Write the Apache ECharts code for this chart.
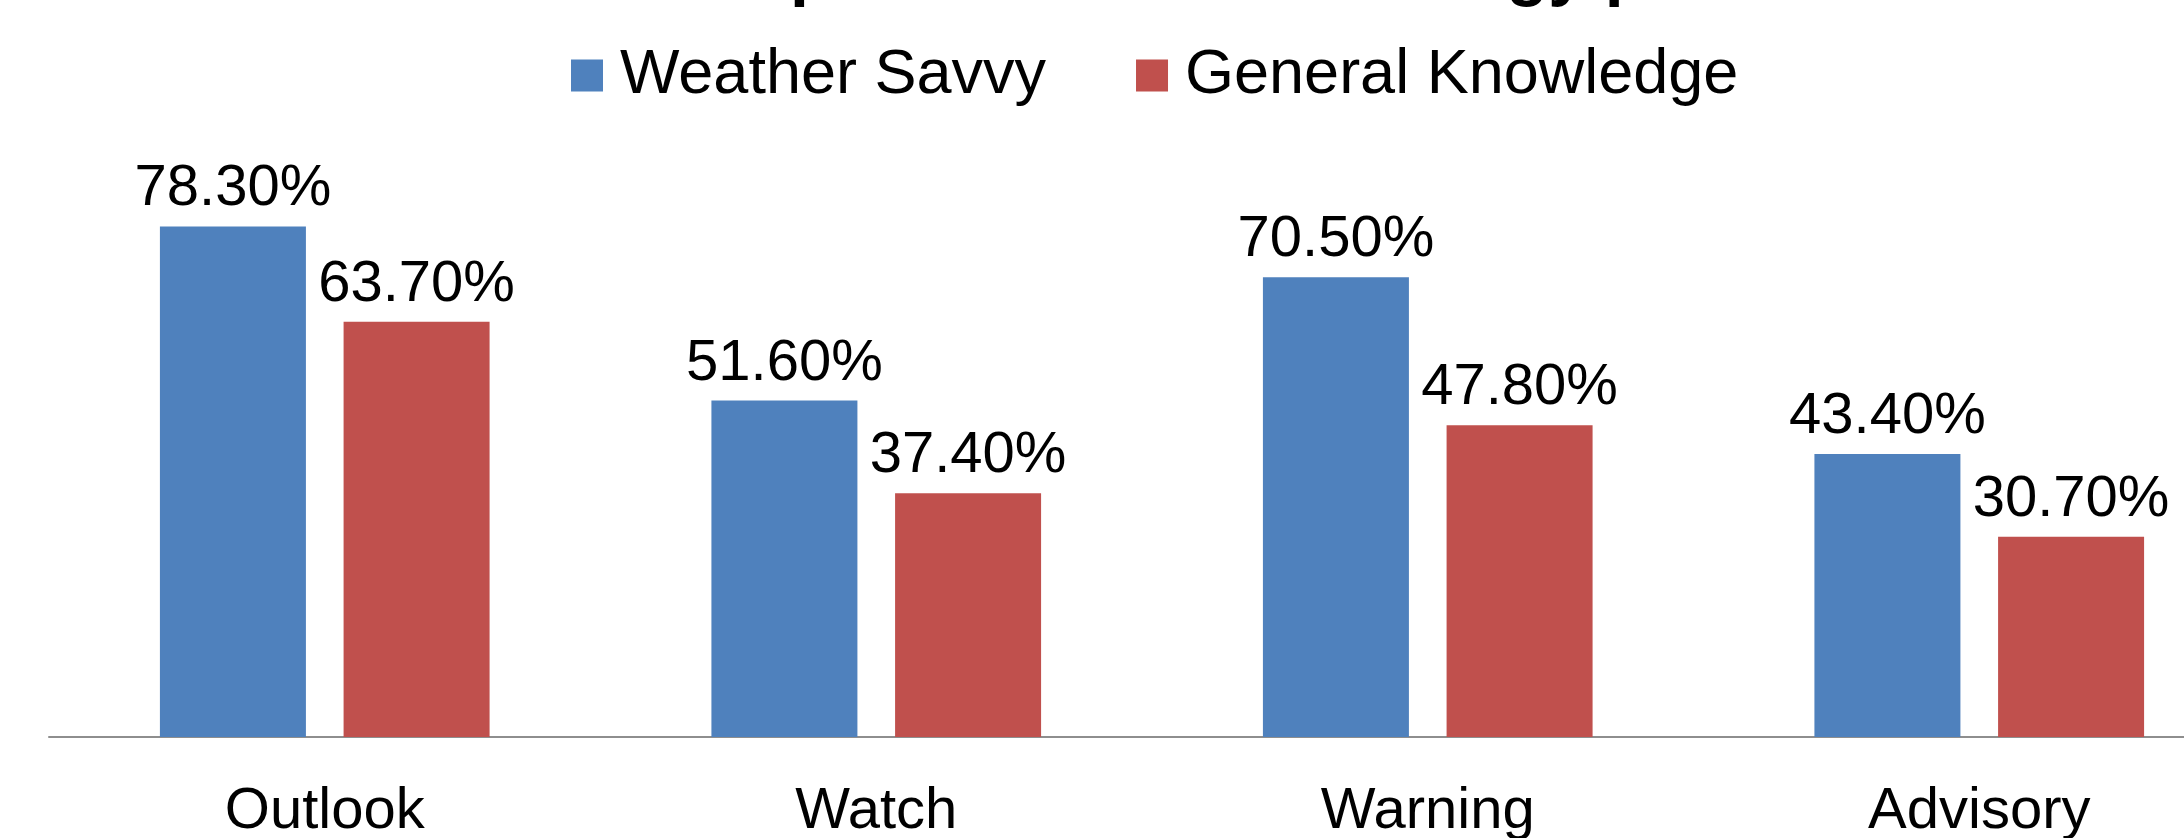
<!DOCTYPE html>
<html>
<head>
<meta charset="utf-8">
<script src="https://cdn.jsdelivr.net/npm/echarts@6/dist/echarts.min.js"></script>
<style>
html,body{margin:0;padding:0;background:#fff;}
#chart{width:2184px;height:838px;}
</style>
</head>
<body>
<div id="chart"></div>
<script>
const titleText = 'Correct Interpretation of Terminology per Audience';
const categories = ['Outlook', 'Watch', 'Warning', 'Advisory'];
const seriesNames = ['Weather Savvy', 'General Knowledge'];
const weatherSavvy = [78.3, 51.6, 70.5, 43.4];
const generalKnowledge = [63.7, 37.4, 47.8, 30.7];

const FONT = '"Liberation Sans", Arial, sans-serif';
const chart = echarts.init(document.getElementById('chart'), null, {renderer: 'canvas'});

const labelCfg = {
  show: true,
  position: 'top',
  distance: 8,
  fontFamily: FONT,
  fontSize: 58,
  color: '#000',
  formatter: p => p.value.toFixed(2) + '%'
};

chart.setOption({
  animation: false,
  backgroundColor: '#fff',
  title: {
    text: titleText,
    left: 382,
    top: -60,
    padding: 0,
    textStyle: {fontFamily: FONT, fontSize: 68, fontWeight: 'bold', color: '#000'}
  },
  legend: {
    data: seriesNames,
    left: 571,
    top: 44,
    padding: 0,
    itemWidth: 32,
    itemHeight: 32,
    itemGap: 90,
    icon: 'rect',
    textStyle: {fontFamily: FONT, fontSize: 63, color: '#000', padding: [0, 0, 0, 12]}
  },
  grid: {left: 49, width: 2206, top: 85, height: 652, containLabel: false, outerBoundsMode: 'none'},
  xAxis: {
    type: 'category',
    data: categories,
    axisLine: {show: true, lineStyle: {color: '#8e8e8e', width: 2}},
    axisTick: {show: false},
    axisLabel: {fontFamily: FONT, fontSize: 58, color: '#000', margin: 46}
  },
  yAxis: {
    type: 'value',
    min: 0,
    max: 100,
    show: false,
    splitLine: {show: false}
  },
  series: [
    {
      name: seriesNames[0],
      type: 'bar',
      data: weatherSavvy,
      barWidth: 146,
      barGap: '25.8%',
      itemStyle: {color: '#4F81BD'},
      label: labelCfg
    },
    {
      name: seriesNames[1],
      type: 'bar',
      data: generalKnowledge,
      barWidth: 146,
      barGap: '25.8%',
      itemStyle: {color: '#C0504D'},
      label: labelCfg
    }
  ]
});
</script>
</body>
</html>
